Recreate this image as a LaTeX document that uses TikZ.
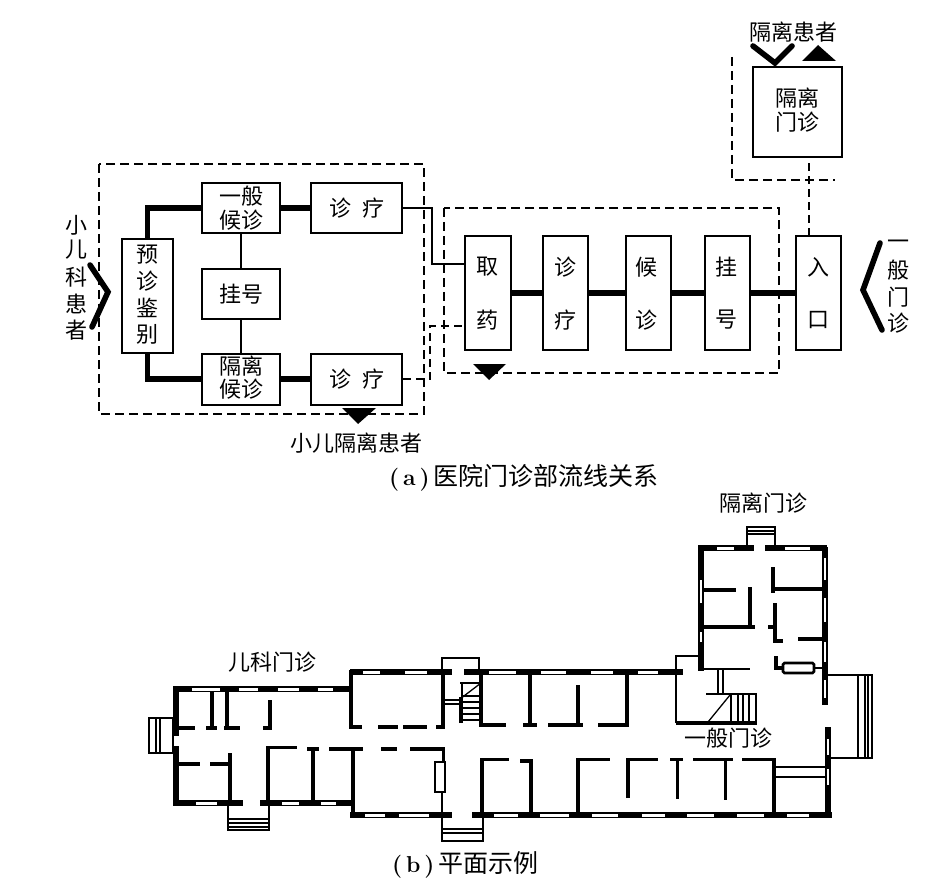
\documentclass[tikz,border=0pt]{standalone}
\usepackage{fontspec}
\newfontfamily\cjk{Noto Sans CJK SC}
\newcommand{\winH}[3]{\fill[white] (#1,#3-1.5) rectangle (#2,#3+1.5);}
\newcommand{\winV}[3]{\fill[white] (#3-1.2,#1) rectangle (#3+1.2,#2);}
\tikzset{
  box/.style={draw,line width=2pt,inner sep=0pt,align=center,font=\fontsize{22}{24}\selectfont\cjk},
  heavy/.style={line width=5.8pt},
  chev/.style={line width=5.6pt,line cap=round,miter limit=10},
  thinflow/.style={line width=1.8pt},
  dashflow/.style={line width=1.8pt,dash pattern=on 8pt off 5pt},
  zone/.style={line width=1.8pt,dash pattern=on 9pt off 5pt},
  lab/.style={inner sep=0pt,font=\fontsize{22}{24}\selectfont\cjk},
  caplab/.style={inner sep=0pt,font=\fontsize{25}{27}\selectfont\cjk},
  ext/.style={line width=6.4pt},
  wall/.style={line width=3.9pt},
  fine/.style={line width=1.3pt},
  tri/.style={fill=black,draw=none}
}
\begin{document}
\begin{tikzpicture}[x=1pt,y=-1pt]
\useasboundingbox (0,0) rectangle (936,890);
\fill[white] (0,0) rectangle (936,890);

% ---------- zones ----------
\draw[zone] (99,164) rectangle (424,414);
\draw[zone] (444,208) rectangle (779,373);
\coordinate (za) at (732,57);
\coordinate (zb) at (732,180);
\coordinate (zc) at (835,180);
\draw[zone] (za) -- (zb) -- (zc);

% ---------- boxes ----------
\node[box,minimum width=51pt,minimum height=114pt] (yz) at (147.5,296) {};
\node[lab] (yz1) at (147,255) {预};
\node[lab] (yz2) at (147,281) {诊};
\node[lab] (yz3) at (147,308) {鉴};
\node[lab] (yz4) at (147,334) {别};
\node[box,minimum width=78pt,minimum height=50pt] (yb) at (241,208) {};
\node[lab] (yb1) at (241,196) {一般};
\node[lab] (yb2) at (241,220) {候诊};
\node[box,minimum width=78pt,minimum height=50pt] (gh) at (241,294) {挂号};
\node[box,minimum width=78pt,minimum height=51pt] (gl) at (241,379) {};
\node[lab] (gl1) at (241,366) {隔离};
\node[lab] (gl2) at (241,389) {候诊};
\node[box,minimum width=91pt,minimum height=50pt] (zl1) at (356.5,208) {诊\hspace{0.5em}疗};
\node[box,minimum width=91pt,minimum height=51pt] (zl2) at (356.5,379) {诊\hspace{0.5em}疗};

\node[box,minimum width=46pt,minimum height=114pt] (qy) at (488,293) {};
\node[lab] (qy1) at (487,267) {取};
\node[lab] (qy2) at (487,320) {药};
\node[box,minimum width=45pt,minimum height=114pt] (zl3) at (565.5,293) {};
\node[lab] (zl31) at (565,267) {诊};
\node[lab] (zl32) at (565,320) {疗};
\node[box,minimum width=45pt,minimum height=114pt] (hz) at (648.5,293) {};
\node[lab] (hz1) at (646,267) {候};
\node[lab] (hz2) at (646,320) {诊};
\node[box,minimum width=45pt,minimum height=114pt] (gh2) at (727.5,293) {};
\node[lab] (gh21) at (726,267) {挂};
\node[lab] (gh22) at (726,320) {号};
\node[box,minimum width=45pt,minimum height=114pt] (rk) at (818.5,293) {};
\node[lab] (rk1) at (818,267) {入};
\node[lab] (rk2) at (818,320) {口};
\node[box,minimum width=89pt,minimum height=90pt] (gm) at (797.5,112) {};
\node[lab] (gm1) at (797,98) {隔离};
\node[lab] (gm2) at (797,122) {门诊};

% ---------- connectors ----------
\draw[heavy] (yz.north) |- (yb.west);
\draw[heavy] (yz.south) |- (gl.west);
\draw[heavy] (yb.east) -- (zl1.west);
\draw[heavy] (gl.east) -- (zl2.west);
\draw[thinflow] (yb) -- (gh);
\draw[thinflow] (gh) -- (gl);
\coordinate (qa) at (465,264);
\coordinate (qb) at (465,326);
\coordinate (ea) at (432,208);
\coordinate (eb) at (430,379);
\draw[thinflow] (zl1.east) -- (ea) |- (qa);
\draw[dashflow] (zl2.east) -- (eb) |- (qb);
\draw[heavy] (qy) -- (zl3);
\draw[heavy] (zl3) -- (hz);
\draw[heavy] (hz) -- (gh2);
\draw[heavy] (gh2) -- (rk);
\coordinate (rkt) at (809,236);
\coordinate (gmb) at (809,157);
\draw[dashflow] (rkt) -- (gmb);

% ---------- chevrons and triangles ----------
\draw[chev] (90,265) -- (108,292) -- (92,327);
\draw[chev] (880,243) -- (863,290) -- (882,330);
\draw[chev] (753,46) -- (775,63) -- (792,46);
\fill[tri] (342,408) -- (376,408) -- (358,424) -- cycle;
\fill[tri] (473,364) -- (506,364) -- (489,380) -- cycle;
\fill[tri] (802,61) -- (836,61) -- (818,45) -- cycle;

% ---------- outer labels ----------
\node[lab] (a1) at (76,225) {小};
\node[lab] (a2) at (76,250) {儿};
\node[lab] (a3) at (76,277) {科};
\node[lab] (a4) at (76,304) {患};
\node[lab] (a5) at (76,330) {者};
\node[lab] (b1) at (898,245) {一};
\node[lab] (b2) at (898,270) {般};
\node[lab] (b3) at (898,297) {门};
\node[lab] (b4) at (898,323) {诊};
\node[lab] (c1) at (793,32) {隔离患者};
\node[lab] (c2) at (356,443) {小儿隔离患者};
\node[caplab,anchor=west] (cap1) at (389,478) {{\rmfamily\bfseries\fontsize{23}{25}\selectfont(\,a\,)}\,医院门诊部流线关系};
\node[lab] (d1) at (763,503) {隔离门诊};
\node[lab] (d2) at (272,662) {儿科门诊};
\node[lab] (d3) at (728,738) {一般门诊};
\node[caplab,anchor=west] (cap2) at (392,865) {{\rmfamily\bfseries\fontsize{23}{25}\selectfont(\,b\,)}\,平面示例};

% ---------- plan: thin details first ----------
\draw[fine] (149,718) rectangle (173,753);
\draw[fine] (156,718) -- (156,753) (160,718) -- (160,753);
\draw[fine] (228,803) -- (228,830) -- (269,830) -- (269,803);
\draw[fine] (228,819) -- (269,819) (228,823) -- (269,823) (228,827) -- (269,827);
\draw[fine] (442,815) -- (442,841) -- (483,841) -- (483,815);
\draw[fine] (442,829) -- (483,829) (442,833) -- (483,833);
\draw[fine] (442,670) -- (442,658) -- (479,658) -- (479,670);
\draw[fine] (442,792) -- (442,815);
\draw[fine,fill=white] (435,762) rectangle (445,792);
\draw[fine] (442,700) -- (460,700) (442,704) -- (460,704);
\draw[fine] (460,683) -- (481,683) (462,723) -- (462,682) (460,723) -- (460,697);
\draw[fine] (460,699) -- (481,683);
\foreach \yy in {696,702,708,714,720} \draw[fine] (462,\yy) -- (481,\yy);
\draw[fine] (747,545) -- (747,527) -- (775,527) -- (775,545);
\draw[fine] (747,531) -- (775,531) (747,534) -- (775,534);
\draw[fine] (828,675) -- (872,675) -- (872,758) -- (828,758);
\draw[fine] (858,675) -- (858,758) (865,675) -- (865,758) (868,675) -- (868,758);
\draw[fine] (676,723) -- (676,656) -- (700,656);
\draw[fine] (718,670) -- (718,693) (723,670) -- (723,693);
\draw[fine] (708,722) -- (730,695);
\draw[fine] (706,694) -- (757,694);
\foreach \xx in {731,738,743,749,756} \draw[fine] (\xx,694) -- (\xx,723);
\draw[fine] (774,767) -- (827,767) (774,777) -- (827,777);

% ---------- plan: exterior walls ----------
\draw[ext] (350,689) -- (173,689);
\draw[ext] (176,686) -- (176,736);
\draw[ext] (176,746) -- (176,806);
\draw[ext] (173,803) -- (243,803);
\draw[ext] (260,803) -- (352,803);
\draw[ext] (350,815) -- (452,815);
\draw[ext] (472,815) -- (832,815);
\draw[ext] (350,672) -- (452,672);
\draw[ext] (464,672) -- (683,672);
\draw[ext] (828,727) -- (828,818);
\draw[ext] (825,547) -- (825,705);
\draw[ext] (699,548) -- (754,548);
\draw[ext] (765,548) -- (827,548);
\draw[ext] (701,545) -- (701,671);
% windows
\winH{192}{220}{689}\winH{239}{258}{689}\winH{278}{299}{689}\winH{318}{333}{689}
\winH{196}{217}{803}\winH{282}{299}{803}\winH{321}{336}{803}
\winH{365}{385}{815}\winH{399}{429}{815}
\winH{363}{380}{672}\winH{405}{427}{672}
\winH{489}{516}{672}\winH{541}{566}{672}\winH{591}{613}{672}\winH{638}{658}{672}
\winH{494}{518}{815}\winH{540}{569}{815}\winH{592}{618}{815}\winH{642}{665}{815}
\winH{687}{714}{815}\winH{737}{764}{815}\winH{787}{809}{815}
\winH{717}{734}{548}\winH{785}{810}{548}
\winV{739}{755}{828}\winV{769}{785}{828}
\winV{558}{580}{825}\winV{598}{622}{825}\winV{642}{662}{825}\winV{680}{698}{825}
\winV{580}{603}{701}\winV{632}{642}{701}

% ---------- plan: partitions ----------
\draw[wall] (212,692) -- (212,728) (227,692) -- (227,728);
\draw[wall] (178,728) -- (195,728) (206,728) -- (217,728) (224,728) -- (240,728) (263,728) -- (272,728);
\draw[wall] (270,700) -- (270,729.5);
\draw[wall] (178,764) -- (200,764) (210,764) -- (231,764);
\draw[wall] (230,753) -- (230,803);
\draw[wall] (268,803) -- (268,747.5) -- (297,747.5);
\draw[wall] (307,749) -- (319,749) (329,749) -- (363,749);
\draw[wall] (381,749) -- (397,749) (410,749) -- (443.5,749) -- (443.5,762);
\draw[wall] (313,749) -- (313,803);
\draw[wall] (353,749) -- (353,815);
\draw[wall] (351,670) -- (351,727) -- (362,727);
\draw[wall] (378,727) -- (398,727) (403,727) -- (427,727) (436,727) -- (443,727) -- (443,672);
\draw[wall] (481,670) -- (481,725) -- (506,725);
\draw[wall] (523,725) -- (537,725) (548,725) -- (583,725) (598,725) -- (628.5,725);
\draw[wall] (530,671) -- (530,725) (578,685) -- (578,725) (627,671) -- (627,725);
\draw[wall] (482,814) -- (482,759.5) -- (509,759.5) (520,761) -- (531,761) -- (531,814);
\draw[wall] (578,814) -- (578,759.5) -- (610,759.5);
\draw[wall] (628,798) -- (628,759.5) -- (658,759.5);
\draw[wall] (670,759.5) -- (683,759.5) (693,759.5) -- (733,759.5) (742,759.5) -- (774,759.5) -- (774,814);
\draw[wall,line width=3pt] (677,759) -- (677,799) (725,759) -- (725,800);
\draw[wall] (676,723) -- (757,723);
\draw[wall] (703,590) -- (736,590) (703,627) -- (755,627) (750,587) -- (750,627);
\draw[wall,line width=2.2pt] (703,669) -- (750,669);
\draw[wall] (773,567) -- (773,593) (773,589) -- (823,589);
\draw[wall] (775,603) -- (775,641) -- (783,641) (768,627) -- (775,627);
\draw[wall] (798,639) -- (823,639);
\draw[wall] (776,656) -- (776,668) -- (783,668);
\draw[wall,rounded corners=1.5pt,line width=2.8pt,fill=white] (783,663) rectangle (814,673);
\draw[wall,line width=2.6pt] (814,668) -- (823,668);
\end{tikzpicture}
\end{document}
